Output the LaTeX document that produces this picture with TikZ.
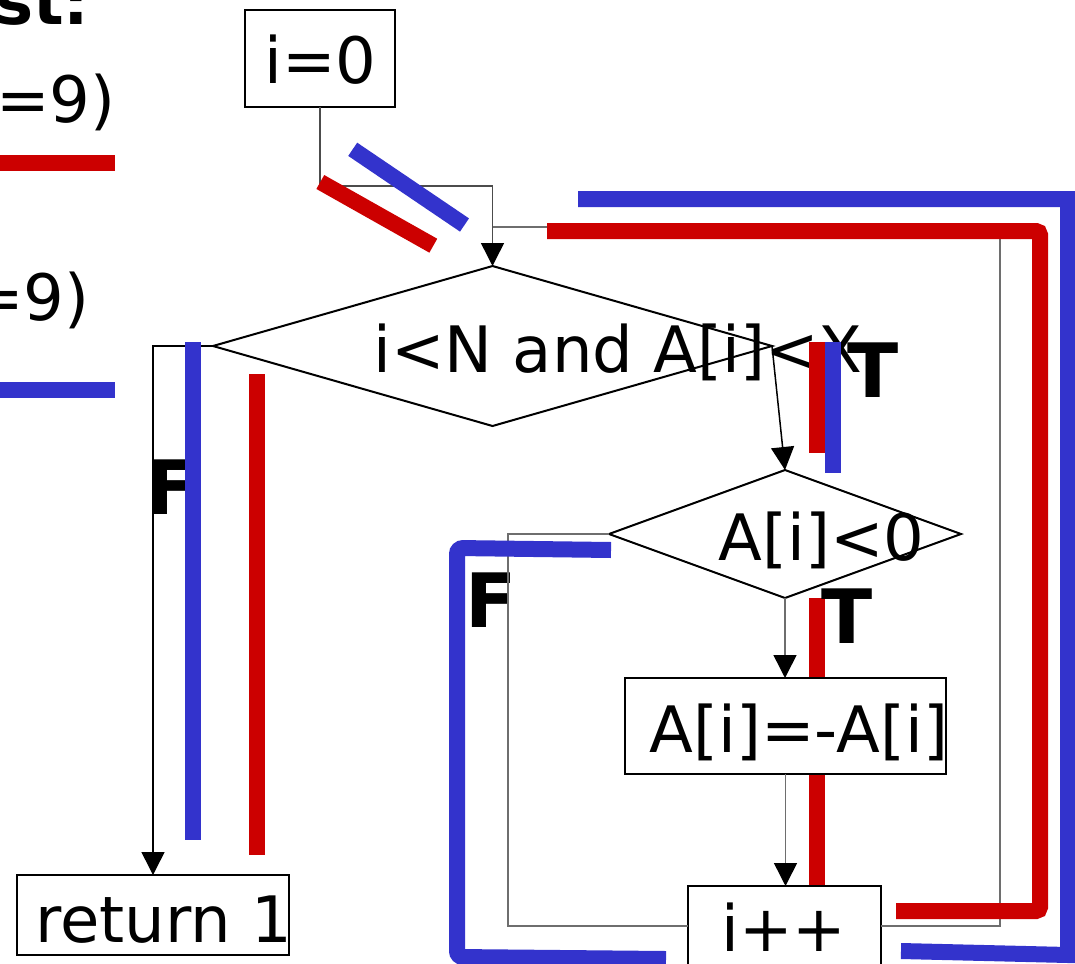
\documentclass[tikz,border=0pt]{standalone}
\usepackage{fontspec}
\setmainfont{DejaVu Sans}
\usetikzlibrary{shapes.geometric,arrows.meta}
\definecolor{hlred}{RGB}{204,0,0}
\definecolor{hlblue}{RGB}{51,51,204}
\definecolor{thinc}{RGB}{110,110,110}
\begin{document}
\begin{tikzpicture}[x=1pt,y=-1pt,
  box/.style={draw=black,line width=2pt,fill=white,rectangle,inner sep=0pt,outer sep=0pt},
  dia/.style={draw=black,line width=2pt,diamond,inner sep=0pt,outer sep=0pt},
  txt/.style={font=\fontsize{64}{70}\selectfont,inner sep=0pt,anchor=base},
  lbl/.style={font=\fontsize{75}{80}\selectfont\bfseries,inner sep=0pt,anchor=base},
  gline/.style={draw=thinc,line width=1.5pt},
  bline/.style={draw=black,line width=1.5pt},
  arr/.style={-{Triangle[length=23pt,width=23pt,color=black]}},
  hlr/.style={draw=hlred,line width=16pt},
  hlb/.style={draw=hlblue,line width=16pt},
]
\useasboundingbox (0,0) rectangle (1075,963);

% red highlight hidden behind the assignment box
\draw[hlr] (817,598) -- (817,886);

% nodes
\node[box,minimum width=150,minimum height=97] (init) at (320,58.5) {};
\node[dia,minimum width=559,minimum height=160] (d1) at (492.5,346) {};
\node[dia,minimum width=352,minimum height=128] (d2) at (785,534) {};
\node[box,minimum width=321,minimum height=96] (neg) at (785.5,726) {};
\node[box,minimum width=193,minimum height=80] (inc) at (784.5,926) {};
\node[box,minimum width=272,minimum height=80] (ret) at (153,915) {};

% texts
\node[txt] (t0) at (320.5,84) {i=0};
\node[txt] (t1) at (618,372) {i<N and A[i]<X};
\node[txt] (t2) at (821.5,560) {A[i]<0};
\node[txt] (t3) at (799,752) {A[i]=-A[i]};
\node[txt] (t4) at (784,951) {i++};
\node[txt] (t5) at (163.5,942) {return 1};

\node[lbl] (T1) at (873,397) {T};
\node[lbl] (T2) at (847,643) {T};
\node[lbl] (F1) at (172,514) {F};
\node[lbl] (F2) at (491,627) {F};

% legend (cut off at the left)
\node[font=\fontsize{64}{70}\selectfont\bfseries,inner sep=0pt,anchor=base east] (lg0) at (89.5,25) {st:};
\node[txt,anchor=base west] (lg1) at (-4,123) {=9)};
\node[txt,anchor=base west] (lg2) at (-30,320) {=9)};

% connectors
\coordinate (j1) at (492.5,186);
\draw[gline,draw=gray!60!black,arr] (init.south) |- (j1) -- (d1.north);
\draw[bline,arr] (d1.west) -| (ret.north);
\draw[bline,arr] (d1.east) -- (d2.north);
\draw[gline,arr] (d2.south) -- (d2.south |- neg.north);
\draw[gline,arr] (neg.south) -- (neg.south |- inc.north);
\coordinate (c2) at (508,926);
\draw[gline] (d2.west) -| (c2) -- (inc.west);
\coordinate (c3) at (1000,926);
\coordinate (c4) at (1000,227);
\coordinate (c5) at (492.5,227);
\draw[gline] (inc.east) -- (c3) -- (c4) -- (c5);

% highlights
\draw[hlr] (320.3,182) -- (433.3,245.7);
\draw[hlb] (352.7,149.3) -- (464.5,225);
\draw[hlr,rounded corners=4] (547,231) -- (1040,231) -- (1040,911) -- (896,911);
\draw[hlb] (578,199) -- (1068,199) -- (1068,955) -- (901,951);
\draw[hlr] (817,342) -- (817,453);
\draw[hlb] (833,342) -- (833,473);
\draw[hlb] (193,342) -- (193,840);
\draw[hlr] (257,374) -- (257,855);
\draw[hlb,rounded corners=6] (611,550) -- (457,548) -- (457,957) -- (666,959);
\draw[hlr] (0,163) -- (115,163);
\draw[hlb] (0,390) -- (115,390);
\end{tikzpicture}
\end{document}
